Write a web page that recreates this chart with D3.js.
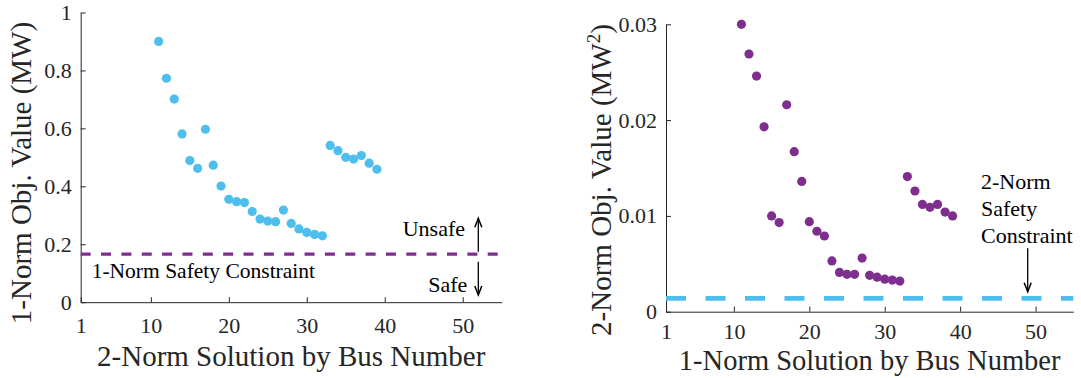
<!DOCTYPE html>
<html>
<head>
<meta charset="utf-8">
<script src="https://cdn.jsdelivr.net/npm/d3@7"></script>
<style>
  html, body { margin: 0; padding: 0; background: #fff; }
  svg { display: block; font-family: "Liberation Serif", "Times New Roman", serif; }
  .axis path, .axis line { stroke: #262626; stroke-width: 1; }
  .axis text { fill: #262626; font-size: 22px; font-family: "Liberation Serif", serif; }
</style>
</head>
<body>
<svg id="chart" width="1081" height="378"></svg>
<script>
// Bus numbers at which each solution was evaluated
const busNumbers = [11, 12, 13, 14, 15, 16, 17, 18, 19, 20, 21, 22, 23, 24, 25,
                    26, 27, 28, 29, 30, 31, 32, 33, 34, 35, 36, 37, 38, 39];

// 1-norm objective of the 2-norm solution (MW)
const oneNormObj = [0.900, 0.773, 0.701, 0.581, 0.489, 0.462, 0.597, 0.473, 0.401, 0.355,
                    0.347, 0.344, 0.313, 0.287, 0.280, 0.278, 0.318, 0.272, 0.253, 0.241,
                    0.234, 0.229, 0.541, 0.523, 0.500, 0.494, 0.506, 0.480, 0.459];

// 2-norm objective of the 1-norm solution (MW^2)
const twoNormObj = [0.0300, 0.0269, 0.0246, 0.0193, 0.0100, 0.0093, 0.0216, 0.0167, 0.0136, 0.0094,
                    0.0084, 0.0079, 0.0053, 0.0041, 0.0039, 0.0039, 0.0056, 0.0038, 0.0036, 0.0034,
                    0.0033, 0.0032, 0.0141, 0.0126, 0.0112, 0.0109, 0.0112, 0.0104, 0.0100];

// Safety constraint limits
const oneNormLimit = 0.166;
const twoNormLimit = 0.0014;

// Tick labels
const xTicks = [1, 10, 20, 30, 40, 50];
const leftYTicks = [0, 0.2, 0.4, 0.6, 0.8, 1];
const rightYTicks = [0, 0.01, 0.02, 0.03];

const svg = d3.select("#chart");
const axisColor = "#262626";
const blue = "#4DBEEE";
const purple = "#7E2F8E";

function drawArrow(g, x, y1, y2) {
  // shaft from y1 to y2, head at y2
  const dir = y2 < y1 ? 1 : -1;
  g.append("line").attr("x1", x).attr("x2", x).attr("y1", y1).attr("y2", y2)
    .attr("stroke", "#000").attr("stroke-width", 1.3);
  g.append("path")
    .attr("d", `M${x - 3.5},${y2 + dir * 9} L${x},${y2} L${x + 3.5},${y2 + dir * 9}`)
    .attr("fill", "none").attr("stroke", "#000").attr("stroke-width", 1.5);
}

/* ---------- Left panel: 1-norm objective ---------- */
{
  const x = d3.scaleLinear().domain([1, 55]).range([80.7, 501.7]);
  const y = d3.scaleLinear().domain([0, 1]).range([302.2, 12.5]);
  const g = svg.append("g");

  g.append("g").attr("class", "axis").attr("transform", `translate(0,${y(0)})`)
    .call(d3.axisBottom(x).tickValues(xTicks).tickFormat(d3.format("d"))
      .tickSizeInner(-5).tickSizeOuter(0).tickPadding(15));
  g.append("g").attr("class", "axis").attr("transform", `translate(${x(1)},0)`)
    .call(d3.axisLeft(y).tickValues(leftYTicks).tickFormat(d => d3.format("~g")(d))
      .tickSizeInner(-5).tickSizeOuter(0).tickPadding(9));

  g.append("line")
    .attr("x1", x(1)).attr("x2", x(55))
    .attr("y1", y(oneNormLimit)).attr("y2", y(oneNormLimit))
    .attr("stroke", purple).attr("stroke-width", 3.2)
    .attr("stroke-dasharray", "10,10.35");

  g.selectAll("circle").data(busNumbers).join("circle")
    .attr("cx", d => x(d))
    .attr("cy", (d, i) => y(oneNormObj[i]))
    .attr("r", 4.6).attr("fill", blue);

  g.append("text").attr("x", 91.7).attr("y", 278.3)
    .attr("font-size", 21.5).attr("fill", "#000").text("1-Norm Safety Constraint");
  g.append("text").attr("x", 465).attr("y", 236).attr("text-anchor", "end")
    .attr("font-size", 22).attr("fill", "#000").text("Unsafe");
  g.append("text").attr("x", 467.3).attr("y", 291.7).attr("text-anchor", "end")
    .attr("font-size", 22).attr("fill", "#000").text("Safe");
  drawArrow(g, 478.3, 251.7, 218.3);
  drawArrow(g, 478.3, 261.7, 295);

  g.append("text").attr("x", (x(1) + x(55)) / 2).attr("y", 366)
    .attr("text-anchor", "middle").attr("font-size", 29).attr("fill", axisColor)
    .text("2-Norm Solution by Bus Number");
  g.append("text").attr("transform", "translate(30.7,173) rotate(-90)")
    .attr("text-anchor", "middle").attr("font-size", 29).attr("fill", axisColor)
    .text("1-Norm Obj. Value (MW)");
}

/* ---------- Right panel: 2-norm objective ---------- */
{
  const x = d3.scaleLinear().domain([1, 55]).range([666, 1073.3]);
  const y = d3.scaleLinear().domain([0, 0.03]).range([311.7, 24.3]);
  const g = svg.append("g");

  g.append("g").attr("class", "axis").attr("transform", `translate(0,${y(0)})`)
    .call(d3.axisBottom(x).tickValues(xTicks).tickFormat(d3.format("d"))
      .tickSizeInner(-5).tickSizeOuter(0).tickPadding(12));
  g.append("g").attr("class", "axis").attr("transform", `translate(${x(1)},0)`)
    .call(d3.axisLeft(y).tickValues(rightYTicks).tickFormat(d => d3.format("~g")(d))
      .tickSizeInner(-5).tickSizeOuter(0).tickPadding(9));

  g.append("line")
    .attr("x1", x(1)).attr("x2", x(55))
    .attr("y1", y(twoNormLimit)).attr("y2", y(twoNormLimit))
    .attr("stroke", blue).attr("stroke-width", 4.8)
    .attr("stroke-dasharray", "20,19.5");

  g.selectAll("circle").data(busNumbers).join("circle")
    .attr("cx", d => x(d))
    .attr("cy", (d, i) => y(twoNormObj[i]))
    .attr("r", 4.6).attr("fill", purple);

  const note = g.append("text").attr("font-size", 22).attr("fill", "#000");
  note.append("tspan").attr("x", 981).attr("y", 189.3).text("2-Norm");
  note.append("tspan").attr("x", 981).attr("y", 215.5).text("Safety");
  note.append("tspan").attr("x", 981).attr("y", 243.3).text("Constraint");
  drawArrow(g, 1027.7, 248.3, 291.7);

  g.append("text").attr("x", (x(1) + x(55)) / 2).attr("y", 369.5)
    .attr("text-anchor", "middle").attr("font-size", 28.5).attr("fill", axisColor)
    .text("1-Norm Solution by Bus Number");
  const yl = g.append("text").attr("transform", "translate(611,180) rotate(-90)")
    .attr("text-anchor", "middle").attr("font-size", 29).attr("fill", axisColor);
  yl.append("tspan").text("2-Norm Obj. Value (MW");
  yl.append("tspan").attr("font-size", 19).attr("dy", -11).text("2");
  yl.append("tspan").attr("dy", 11).text(")");
}
</script>
</body>
</html>
